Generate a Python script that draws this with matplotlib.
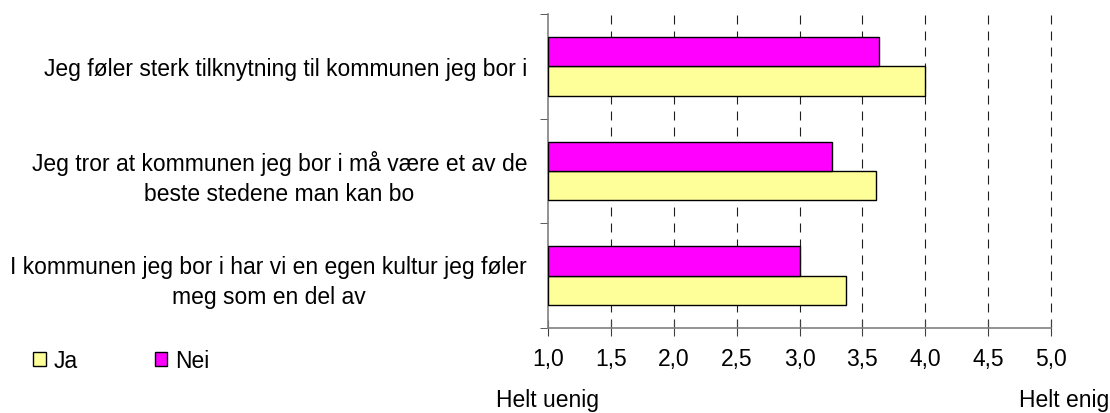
import matplotlib
matplotlib.use("Agg")
import matplotlib.pyplot as plt
import numpy as np

# data (bottom to top in the plot)
categories = [
    "I kommunen jeg bor i har vi en egen kultur jeg føler\nmeg som en del av",
    "Jeg tror at kommunen jeg bor i må være et av de\nbeste stedene man kan bo",
    "Jeg føler sterk tilknytning til kommunen jeg bor i",
]
ja = [3.37, 3.61, 4.0]
nei = [3.0, 3.26, 3.63]
xticks = [1.0, 1.5, 2.0, 2.5, 3.0, 3.5, 4.0, 4.5, 5.0]
xticklabels = ["1,0", "1,5", "2,0", "2,5", "3,0", "3,5", "4,0", "4,5", "5,0"]

plt.rcParams['font.family'] = ['Liberation Sans', 'DejaVu Sans']
fs = 16.5

fig = plt.figure(figsize=(11.1, 4.14), dpi=100)
ax = fig.add_axes([548 / 1110, 1 - 329 / 414, 503 / 1110, 314 / 414])

y = np.arange(len(categories))
h = 0.28
base = 1.0
ax.barh(y - h / 2, np.array(ja) - base, left=base, height=h, color='#ffff99',
        edgecolor='black', linewidth=1, label='Ja', zorder=3)
ax.barh(y + h / 2, np.array(nei) - base, left=base, height=h, color='#ff00ff',
        edgecolor='black', linewidth=1, label='Nei', zorder=3)

ax.set_xlim(1.0, 5.0)
ax.set_ylim(-0.5, 2.5)
ax.set_xticks(xticks)
ax.set_xticklabels(xticklabels, fontsize=fs)
ax.set_yticks(y)
ax.set_yticklabels(categories, fontsize=fs, multialignment='center', linespacing=1.4)
ax.set_yticks([-0.5, 0.5, 1.5, 2.5], minor=True)
ax.tick_params(axis='y', which='major', length=0, pad=15)
ax.tick_params(axis='y', which='minor', length=6, direction='out', color='#404040')
ax.tick_params(axis='x', which='major', length=12, direction='inout', color='#404040', pad=8)

# dashed vertical gridlines
for xv in xticks[1:]:
    ax.axvline(xv, color='#202020', linestyle=(0, (8.1, 6.3)), linewidth=0.8, zorder=1,
               clip_on=False)

for s in ['top', 'right']:
    ax.spines[s].set_visible(False)
for s in ['left', 'bottom']:
    ax.spines[s].set_color('#808080')
    ax.spines[s].set_linewidth(1.2)

fig.text(548 / 1110, 1 - 401 / 414, "Helt uenig", ha='center', va='center', fontsize=fs)
fig.text(1109 / 1110, 1 - 401 / 414, "Helt enig", ha='right', va='center', fontsize=fs)

handles, labels = ax.get_legend_handles_labels()
fig.legend(handles, labels, loc='center left', bbox_to_anchor=(24 / 1110, 1 - 362 / 414),
           ncol=2, frameon=False, fontsize=fs, handlelength=0.55, handleheight=0.55,
           handletextpad=0.35, columnspacing=3.35, borderaxespad=0)

fig.savefig("out.png", dpi=100)
